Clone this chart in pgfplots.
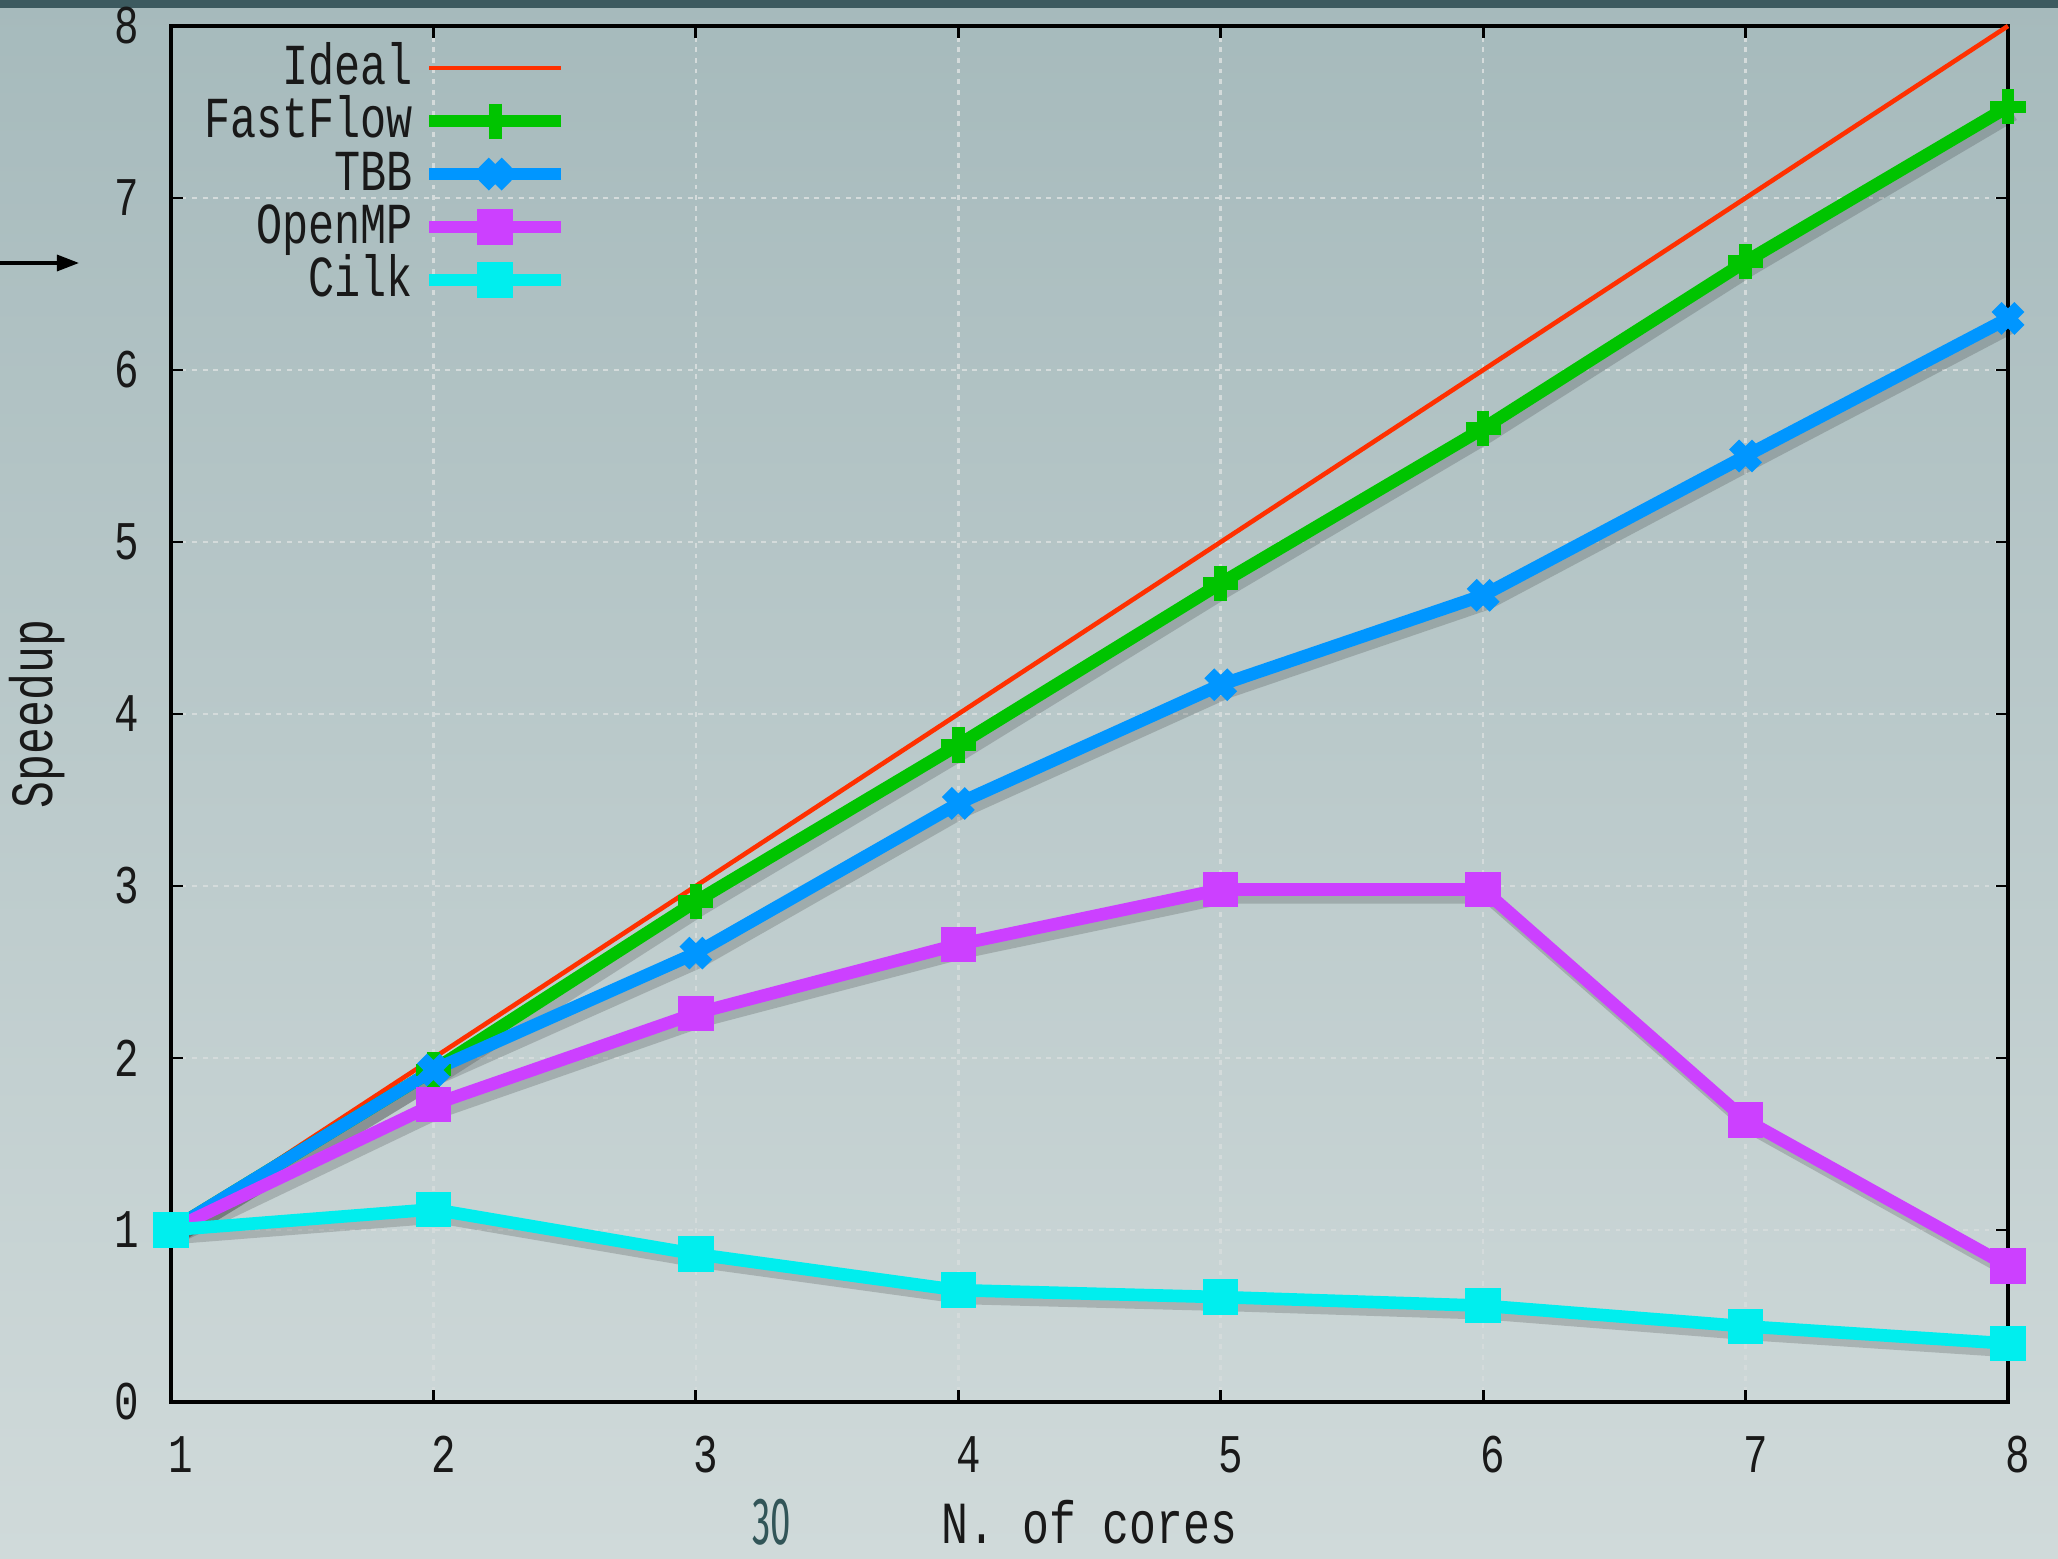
\documentclass[border=0pt]{standalone}
\usepackage{fontspec}
\setmainfont[FakeStretch=0.75]{Liberation Mono}
\newfontfamily\slidefont{Fira Sans}
\usepackage{graphicx}
\usepackage{pgfplots}
\pgfplotsset{compat=1.18}
\usetikzlibrary{arrows.meta}
\definecolor{bgtop}{RGB}{166,186,188}
\definecolor{bgbot}{RGB}{208,218,218}
\definecolor{topband}{RGB}{60,90,95}
\definecolor{slidenum}{RGB}{50,85,88}
\definecolor{cideal}{RGB}{255,48,0}
\definecolor{cff}{RGB}{0,196,0}
\definecolor{ctbb}{RGB}{0,150,255}
\definecolor{comp}{RGB}{204,64,255}
\definecolor{ccilk}{RGB}{0,238,238}
\definecolor{gridc}{RGB}{212,219,219}
\definecolor{txt}{RGB}{25,25,25}

\pgfplotstableread{
x ideal ff tbb omp cilk
1 1 1    1    1    1
2 2 1.93 1.93 1.73 1.12
3 3 2.91 2.61 2.26 0.86
4 4 3.82 3.48 2.66 0.65
5 5 4.76 4.17 2.98 0.61
6 6 5.66 4.69 2.98 0.56
7 7 6.63 5.50 1.64 0.44
8 8 7.53 6.30 0.79 0.34
}\speeddata

\begin{document}
\begin{tikzpicture}
\useasboundingbox (0,0) rectangle (20.58,15.58);
\shade[bottom color=bgbot, top color=bgtop] (0,0) rectangle (20.58,15.58);
\fill[topband] (0,15.50) rectangle (20.58,15.58);
\begin{axis}[
  at={(1.71cm,1.56cm)}, anchor=south west,
  scale only axis, width=18.37cm, height=13.76cm,
  xmin=1, xmax=8, ymin=0, ymax=8,
  xtick={1,...,8}, ytick={0,...,8},
  clip=false,
  axis line style={line width=0.9pt, black},
  tick style={line width=0.8pt, black},
  tick align=inside, major tick length=0.12cm,
  xtick pos=both, ytick pos=both,
  grid=major,
  grid style={gridc, line width=0.75pt, dash pattern=on 1.4pt off 1.6pt},
  /pgf/number format/assume math mode=true,
  tick label style={font=\fontsize{15.5}{17}\selectfont, text=txt},
  xticklabel style={yshift=-0.22cm, xshift=0.1cm},
  yticklabel style={xshift=-0.2cm},
  xlabel={N. of cores},
  ylabel={Speedup},
  label style={font=\fontsize{17}{19}\selectfont, text=txt},
  xlabel style={at={(axis description cs:0.5,-0.1125)}, anchor=south},
  ylabel style={at={(axis description cs:-0.073,0.5)}, anchor=center},
  legend style={draw=none, fill=none,
    at={(axis description cs:0.222,0.9943)}, anchor=north east,
    font=\fontsize{16.5}{18}\selectfont, text=txt,
    nodes={inner sep=0.1cm, text height=0.33cm, text depth=0cm},
    row sep=0pt},
  legend cell align=right,
  legend plot pos=right,
  legend image code/.code={\draw[mark repeat=2,mark phase=2,#1] plot coordinates {(0cm,0cm) (0.66cm,0cm) (1.32cm,0cm)};},
  shadow/.style={forget plot, black, opacity=0.16, xshift=1.5pt, yshift=-2pt, line width=4pt, mark=none},
]
\addplot[shadow] table[x=x,y=ff]{\speeddata};
\addplot[shadow] table[x=x,y=tbb]{\speeddata};
\addplot[shadow] table[x=x,y=omp]{\speeddata};
\addplot[shadow] table[x=x,y=cilk]{\speeddata};
\addplot[cideal, line width=1.3pt] table[x=x,y=ideal]{\speeddata};
\addlegendentry{Ideal}
\addplot[cff, line width=3.6pt, mark=+, mark size=5pt, mark options={line width=3.6pt}] table[x=x,y=ff]{\speeddata};
\addlegendentry{FastFlow}
\addplot[ctbb, line width=3.6pt, mark=x, mark size=4.6pt, mark options={line width=4pt}] table[x=x,y=tbb]{\speeddata};
\addlegendentry{TBB}
\addplot[comp, line width=3.6pt, mark=square*, mark size=4.8pt, mark options={line width=0.5pt}] table[x=x,y=omp]{\speeddata};
\addlegendentry{OpenMP}
\addplot[ccilk, line width=3.6pt, mark=square*, mark size=4.8pt, mark options={line width=0.5pt}] table[x=x,y=cilk]{\speeddata};
\addlegendentry{Cilk}
\end{axis}
\node[text=slidenum, font=\slidefont\fontsize{19}{19}\selectfont, inner sep=0pt] at (7.72,0.36) {\scalebox{0.55}[1]{30}};
\draw[-{Triangle[length=0.22cm,width=0.16cm]}, line width=0.9pt, black] (0,12.95) -- (0.79,12.95);
\end{tikzpicture}
\end{document}
